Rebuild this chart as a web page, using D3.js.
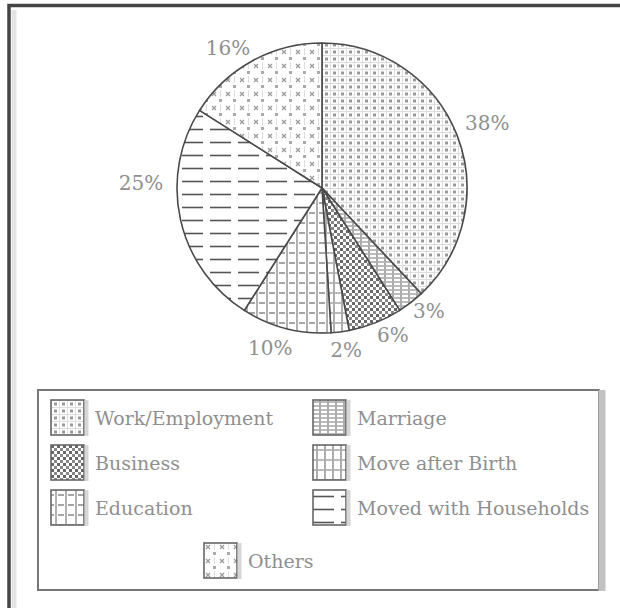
<!DOCTYPE html>
<html>
<head>
<meta charset="utf-8">
<script src="https://cdn.jsdelivr.net/npm/d3@7"></script>
<style>
  body { margin: 0; background: #fff; }
  svg { display: block; }
  text { font-family: "DejaVu Serif", "Liberation Serif", serif; fill: #8f8f8f; }
</style>
</head>
<body>
<svg id="chart" width="620" height="608"></svg>
<script>
const categories = ["Work/Employment", "Marriage", "Business", "Move after Birth",
    "Education", "Moved with Households", "Others"];
const shares = [38, 3, 6, 2, 10, 25, 16];
const pctLabels = ["38%", "3%", "6%", "2%", "10%", "25%", "16%"];

const svg = d3.select("#chart");
const defs = svg.append("defs");

// hatch tiles, one per category
function makePattern(id, w, h, draw) {
    let p = defs.append("pattern")
        .attr("id", id)
        .attr("patternUnits", "userSpaceOnUse")
        .attr("width", w)
        .attr("height", h);
    p.append("rect").attr("width", w).attr("height", h).attr("fill", "#fff");
    draw(p);
}

makePattern("p0", 8, 7, p => {
    p.append("path").attr("d", "M0 0.5H8M0.5 0V7").attr("stroke", "#dcdcdc").attr("stroke-width", 1);
    p.append("rect").attr("x", 3).attr("y", 2.5).attr("width", 3).attr("height", 3).attr("fill", "#999");
});
makePattern("p1", 8, 8, p => {
    p.append("path").attr("d", "M0 2H6M0 6H6M7 0V8").attr("stroke", "#777").attr("stroke-width", 1.2);
});
makePattern("p2", 6, 6, p => {
    p.append("rect").attr("width", 3).attr("height", 3).attr("fill", "#666");
    p.append("rect").attr("x", 3).attr("y", 3).attr("width", 3).attr("height", 3).attr("fill", "#888");
});
makePattern("p3", 8, 10, p => {
    p.append("path").attr("d", "M4 0V10M0 5H3M5 5H8").attr("stroke", "#777").attr("stroke-width", 1.2);
});
makePattern("p4", 10, 10, p => {
    p.append("path").attr("d", "M5 0V10M0 5H3M7 5H10").attr("stroke", "#888").attr("stroke-width", 1.3);
});
makePattern("p5", 28, 13, p => {
    p.append("path").attr("d", "M0 6.5H21").attr("stroke", "#555").attr("stroke-width", 1.6);
});
makePattern("p6", 14, 14, p => {
    p.append("path").attr("d", "M2 2L6 6M6 2L2 6").attr("stroke", "#999").attr("stroke-width", 1.2);
    p.append("rect").attr("x", 9).attr("y", 9).attr("width", 3).attr("height", 3).attr("fill", "#aaa");
    p.append("path").attr("d", "M10.5 0V7").attr("stroke", "#ddd").attr("stroke-width", 1);
});

// outer frame, only left and top are visible
svg.append("path")
    .attr("d", "M14 610V10")
    .attr("stroke", "#e4e4e4")
    .attr("stroke-width", 5)
    .attr("fill", "none");
svg.append("path")
    .attr("d", "M9 610V5.5H625")
    .attr("stroke", "#444")
    .attr("stroke-width", 3.5)
    .attr("fill", "none");

// pie
const cx = 322, cy = 188, radius = 145;
const pie = d3.pie().sort(null);
const arcs = pie(shares);
const arcGen = d3.arc().innerRadius(0).outerRadius(radius);
const labelArc = d3.arc().innerRadius(168).outerRadius(168);

const g = svg.append("g").attr("transform", `translate(${cx}, ${cy})`);

g.selectAll("path")
    .data(arcs)
    .enter()
    .append("path")
    .attr("d", arcGen)
    .attr("fill", (d, i) => `url(#p${i})`)
    .attr("stroke", "#4a4a4a")
    .attr("stroke-width", 1.6);

// small nudges so labels sit where the original put them
const nudge = [[9, -3], [4, -10], [9, -9], [3, -5], [-10, -3], [-17, -42], [-13, 7]];

g.selectAll("text")
    .data(arcs)
    .enter()
    .append("text")
    .attr("x", (d, i) => labelArc.centroid(d)[0] + nudge[i][0])
    .attr("y", (d, i) => labelArc.centroid(d)[1] + nudge[i][1])
    .attr("text-anchor", "middle")
    .attr("dominant-baseline", "central")
    .style("font-size", "20px")
    .text((d, i) => pctLabels[i]);

// legend
const legend = svg.append("g");
legend.append("rect")
    .attr("x", 38).attr("y", 390)
    .attr("width", 561).attr("height", 200)
    .attr("fill", "none")
    .attr("stroke", "#777")
    .attr("stroke-width", 2);
legend.append("path")
    .attr("d", "M602 390V591")
    .attr("stroke", "#c2c2c2")
    .attr("stroke-width", 7);

const cols = [51, 313];
const rows = [400, 445, 490];
const items = categories.map((c, i) => {
    if (i === 6) return { name: c, i: i, x: 204, y: 543 };
    return { name: c, i: i, x: cols[i % 2], y: rows[Math.floor(i / 2)] };
});

const sw = 33, sh = 35;
const item = legend.selectAll("g.item")
    .data(items)
    .enter()
    .append("g")
    .attr("class", "item")
    .attr("transform", d => `translate(${d.x}, ${d.y})`);

item.append("rect")
    .attr("width", sw)
    .attr("height", sh)
    .attr("fill", d => `url(#p${d.i})`)
    .attr("stroke", "#666")
    .attr("stroke-width", 1.6);
item.append("path")
    .attr("d", `M${sw + 2.5} 0V${sh + 1}`)
    .attr("stroke", "#d6d6d6")
    .attr("stroke-width", 4);

item.append("text")
    .attr("x", 44)
    .attr("y", sh / 2)
    .attr("dominant-baseline", "central")
    .style("font-size", "19px")
    .text(d => d.name);
</script>
</body>
</html>
